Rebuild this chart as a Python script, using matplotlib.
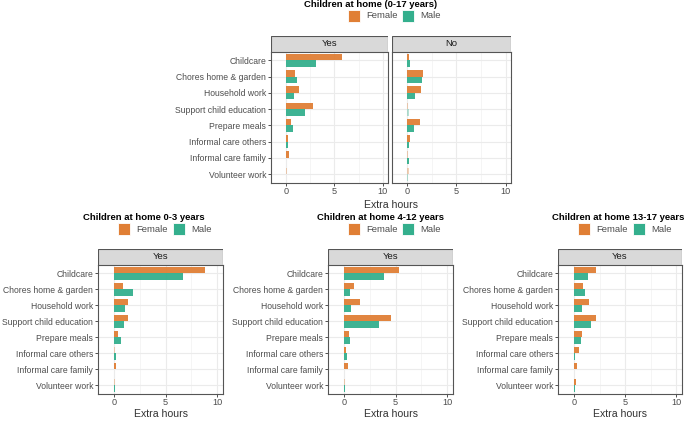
import matplotlib
matplotlib.use("Agg")
import matplotlib.pyplot as plt
from matplotlib.patches import Rectangle

plt.rcParams['font.family'] = ['Liberation Sans', 'DejaVu Sans']

categories = ["Childcare", "Chores home & garden", "Household work",
              "Support child education", "Prepare meals", "Informal care others",
              "Informal care family", "Volunteer work"]
ticks = [0, 5, 10]

# Children at home 0-17, Yes / No
all_yes_female = [5.79, 0.96, 1.30, 2.81, 0.48, 0.24, 0.31, 0.14]
all_yes_male = [3.08, 1.16, 0.82, 1.95, 0.72, 0.24, 0.03, 0.03]
all_yes_female_sig = [1, 1, 1, 1, 1, 1, 1, 0]
all_yes_male_sig = [1, 1, 1, 1, 1, 1, 0, 0]
all_no_female = [0.17, 1.57, 1.43, 0.03, 1.33, 0.24, 0.10, 0.14]
all_no_male = [0.24, 1.47, 0.75, 0.14, 0.65, 0.14, 0.17, 0.03]
all_no_female_sig = [1, 1, 1, 0, 1, 1, 0, 0]
all_no_male_sig = [1, 1, 1, 0, 1, 1, 1, 0]

# Children at home 0-3
y03_female = [8.84, 0.87, 1.39, 1.35, 0.39, 0.10, 0.19, 0.10]
y03_male = [6.68, 1.81, 1.03, 0.97, 0.65, 0.19, 0.01, 0.05]
y03_female_sig = [1, 1, 1, 1, 1, 0, 1, 0]
y03_male_sig = [1, 1, 1, 1, 1, 1, 0, 1]

# Children at home 4-12
y412_female = [5.36, 0.95, 1.54, 4.51, 0.46, 0.20, 0.42, 0.05]
y412_male = [3.86, 0.62, 0.72, 3.43, 0.59, 0.33, 0.03, 0.08]
y412_female_sig = [1, 1, 1, 1, 1, 1, 1, 0]
y412_male_sig = [1, 1, 1, 1, 1, 1, 0, 1]

# Children at home 13-17
y1317_female = [2.13, 0.90, 1.48, 2.16, 0.77, 0.48, 0.32, 0.16]
y1317_male = [1.39, 1.13, 0.77, 1.68, 0.71, 0.10, 0.05, 0.08]
y1317_female_sig = [1, 1, 1, 1, 1, 1, 1, 1]
y1317_male_sig = [1, 1, 1, 1, 1, 1, 0, 1]

FEMALE = '#E07F35'
MALE = '#34AF8D'
TXT = '#4D4D4D'
W, H = 685, 421

fig = plt.figure(figsize=(W / 100, H / 100), dpi=100)


def box(x0, y0, x1, y1):
    return [x0 / W, 1 - y1 / H, (x1 - x0) / W, (y1 - y0) / H]


def panel(x0, x1, top, bottom, female, male, fsig, msig, label, show_y):
    strip_h = 15.5
    ax = fig.add_axes(box(x0, top + strip_h, x1, bottom))
    ys = list(range(len(categories)))
    for i in ys:
        ax.barh(i - 0.2, female[i], height=0.4, color=FEMALE,
                alpha=0.95 if fsig[i] else 0.35, zorder=3)
        ax.barh(i + 0.2, male[i], height=0.4, color=MALE,
                alpha=0.95 if msig[i] else 0.35, zorder=3)
    ax.set_xlim(-1.55, 10.55)
    ax.set_ylim(len(categories) - 0.45, -0.55)
    ax.set_xticks(ticks)
    ax.set_xticks([2.5, 7.5], minor=True)
    ax.set_yticks(ys)
    ax.set_yticklabels(categories if show_y else [])
    ax.grid(True, which='major', color='#EBEBEB', lw=0.8, zorder=0)
    ax.grid(True, which='minor', axis='x', color='#F2F2F2', lw=0.5, zorder=0)
    ax.set_axisbelow(True)
    ax.tick_params(axis='x', which='both', length=2, width=0.6, colors='#333333',
                   labelcolor=TXT, labelsize=6.6, pad=1)
    ax.tick_params(axis='x', which='minor', length=0)
    ax.tick_params(axis='y', length=2 if show_y else 0, width=0.6, colors='#333333',
                   labelcolor=TXT, labelsize=6.2, pad=1.5)
    for s in ax.spines.values():
        s.set_color('#555555')
        s.set_linewidth(0.8)
    sax = fig.add_axes(box(x0, top, x1, top + strip_h))
    sax.add_patch(Rectangle((0, 0), 1, 1, transform=sax.transAxes,
                            facecolor='#D9D9D9', edgecolor='#555555', lw=0.8))
    sax.set_axis_off()
    sax.text(0.5, 0.5, label, ha='center', va='center', fontsize=6.8, color='#1A1A1A')
    return ax


def header(title, tx, ty, fx, mx, ly):
    fig.text(tx / W, 1 - ty / H, title, ha='center', va='center',
             fontsize=6.8, fontweight='bold', color='black')
    for kx, name, col in [(fx, 'Female', FEMALE), (mx, 'Male', MALE)]:
        fig.patches.append(Rectangle((kx / W, 1 - (ly + 6) / H), 12 / W, 12 / H,
                                     transform=fig.transFigure, facecolor=col,
                                     edgecolor='white', lw=0.6))
        fig.text((kx + 18) / W, 1 - ly / H, name, ha='left', va='center',
                 fontsize=6.8, color=TXT)


def xtitle(cx, cy):
    fig.text(cx / W, 1 - cy / H, 'Extra hours', ha='center', va='center',
             fontsize=7.6, color='#333333')


# top group
panel(271, 388, 36, 183, all_yes_female, all_yes_male,
      all_yes_female_sig, all_yes_male_sig, 'Yes', True)
panel(392, 511, 36, 183, all_no_female, all_no_male,
      all_no_female_sig, all_no_male_sig, 'No', False)
header('Children at home (0-17 years)', 371, 4.5, 348, 402, 16)
xtitle(391, 205)

# bottom groups
bottom_sets = [
    (98, 223, y03_female, y03_male, y03_female_sig, y03_male_sig,
     'Children at home 0-3 years', 144, 118, 173),
    (328, 453, y412_female, y412_male, y412_female_sig, y412_male_sig,
     'Children at home 4-12 years', 380.5, 348, 402),
    (558, 682, y1317_female, y1317_male, y1317_female_sig, y1317_male_sig,
     'Children at home 13-17 years', 618, 578, 633),
]
for x0, x1, f, m, fs, ms, title, tx, fx, mx in bottom_sets:
    panel(x0, x1, 249, 394, f, m, fs, ms, 'Yes', True)
    header(title, tx, 217, fx, mx, 229)
    xtitle((x0 + x1) / 2, 414)

fig.savefig('out.png', dpi=100)
